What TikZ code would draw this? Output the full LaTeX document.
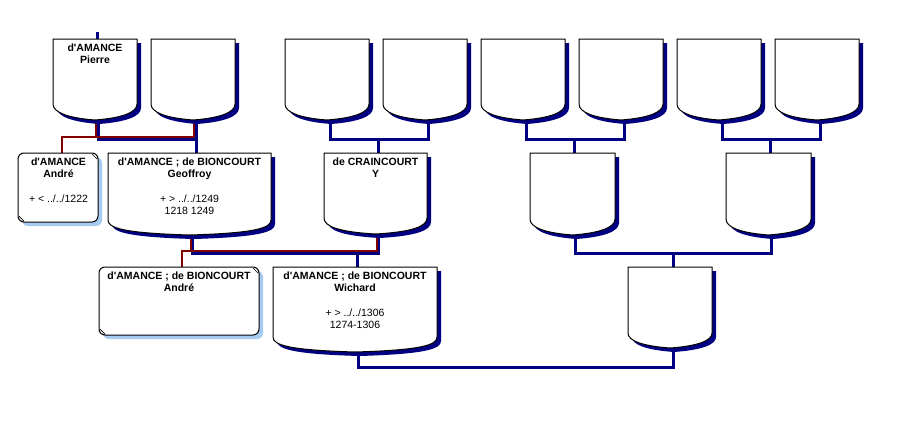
\documentclass[tikz,border=0pt]{standalone}
\usepackage{fontspec}
\setmainfont{Liberation Sans}
\definecolor{navy}{RGB}{0,0,128}
\definecolor{darkred}{RGB}{128,0,0}
\definecolor{lightshadow}{RGB}{166,202,240}
\newcommand\apo{\textquotesingle}
\tikzset{
  blueline/.style={draw=navy,line width=3pt},
  redline/.style={draw=darkred,line width=2pt},
  nametext/.style={anchor=base,inner sep=0pt,font=\fontsize{10.5}{12}\selectfont\bfseries},
  datetext/.style={anchor=base,inner sep=0pt,font=\fontsize{10.5}{12}\selectfont},
  outline/.style={draw=black,line width=1pt,fill=white}
}
% name, left, top, width, side bottom, bottom point
\newcommand\shieldbox[6]{%
  \pgfmathsetmacro\sR{#2+#4}%
  \pgfmathsetmacro\sC{#2+#4/2}%
  \pgfmathsetmacro\sA{#5+0.53*(#6-#5)}%
  \pgfmathsetmacro\sB{#6-0.13*(#6-#5)}%
  \fill[navy,shift={(4,4)}] (#2,#3) -- (\sR,#3) -- (\sR,#5) .. controls (\sR,\sA) and (\sR-15,\sB) .. (\sC,#6) .. controls (#2+15,\sB) and (#2,\sA) .. (#2,#5) -- cycle;
  \path[outline] (#2,#3) -- (\sR,#3) -- (\sR,#5) .. controls (\sR,\sA) and (\sR-15,\sB) .. (\sC,#6) .. controls (#2+15,\sB) and (#2,\sA) .. (#2,#5) -- cycle;
}
% name, left, top, right, bottom
\newcommand\roundbox[5]{%
  \fill[lightshadow,rounded corners=6] (#2+4,#3+4) rectangle (#4+4,#5+4);
  \path[outline,rounded corners=6] (#2,#3) rectangle (#4,#5);
  \draw[line width=0.7pt] (#4-6,#3+1) -- (#4-1,#3+6);
  \draw[line width=0.7pt] (#2+1,#5-6) -- (#2+6,#5-1);
}
\begin{document}
\begin{tikzpicture}[x=1pt,y=-1pt]
\useasboundingbox[fill=white] (0,0) rectangle (897,445);
% ---- attachment coordinates (bottom points: blue b, red r; tops) ----
\foreach \n/\cx/\by in {f1/95/120,f2/193/120,f3/327/120,f4/425/120,f5/523/120,f6/621/120,f7/719/120,f8/817/120,
  geoffroy/189.5/235,craincourt/375.5/234,ma/572.5/235,mb/768.5/235,wichard/355/352,br/670/348}{
  \coordinate (\n-b) at (\cx+3,\by);
  \coordinate (\n-r) at (\cx+1,\by);
}
\coordinate (f1-top) at (95,39);
\coordinate (geoffroy-top) at (189.5,153);
\coordinate (craincourt-top) at (375.5,153);
\coordinate (ma-top) at (572.5,153);
\coordinate (mb-top) at (768.5,153);
\coordinate (wichard-top) at (355,267);
\coordinate (br-top) at (670,267);
\coordinate (andre1-top) at (61.5,153);
\coordinate (andre2-top) at (181.5,267);
\coordinate (stub) at (97,32);
% junctions
\coordinate (j1) at (146,139.5);
\coordinate (j2) at (378.5,139);
\coordinate (j3) at (574.5,139);
\coordinate (j4) at (770.5,139);
\coordinate (j5) at (357,253.5);
\coordinate (j6) at (673,253);
\coordinate (j7) at (515,367);
\coordinate (r1) at (146,137);
\coordinate (r2) at (280,251);
% ---- blue connectors ----
\draw[blueline] (stub) -- (stub |- f1-top);
\draw[blueline] (f1-b) |- (j1) -| (f2-b);
\draw[blueline] (f2-b |- j1) -- (f2-b |- geoffroy-top);
\draw[blueline] (f3-b) |- (j2) -| (f4-b);
\draw[blueline] (j2) -- (j2 |- craincourt-top);
\draw[blueline] (f5-b) |- (j3) -| (f6-b);
\draw[blueline] (j3) -- (j3 |- ma-top);
\draw[blueline] (f7-b) |- (j4) -| (f8-b);
\draw[blueline] (j4) -- (j4 |- mb-top);
\draw[blueline] (geoffroy-b) |- (j5) -| (craincourt-b);
\draw[blueline] (j5) -- (j5 |- wichard-top);
\draw[blueline] (ma-b) |- (j6) -| (mb-b);
\draw[blueline] (j6) -- (j6 |- br-top);
\draw[blueline] (wichard-b) |- (j7) -| (br-b);
% ---- red connectors ----
\draw[redline] (f1-r) |- (r1) -| (f2-r);
\draw[redline] (f1-r |- r1) -| (andre1-top);
\draw[redline] (geoffroy-r) |- (r2) -| (craincourt-r);
\draw[redline] (geoffroy-r |- r2) -| (andre2-top);
% ---- boxes ----
\shieldbox{f1}{53}{39}{84}{104}{120}
\shieldbox{f2}{151}{39}{84}{104}{120}
\shieldbox{f3}{285}{39}{84}{104}{120}
\shieldbox{f4}{383}{39}{84}{104}{120}
\shieldbox{f5}{481}{39}{84}{104}{120}
\shieldbox{f6}{579}{39}{84}{104}{120}
\shieldbox{f7}{677}{39}{84}{104}{120}
\shieldbox{f8}{775}{39}{84}{104}{120}
\shieldbox{geoffroy}{108}{153}{163}{220}{235}
\shieldbox{craincourt}{324}{153}{103}{218}{234}
\shieldbox{ma}{530}{153}{85}{219}{235}
\shieldbox{mb}{726}{153}{85}{219}{235}
\shieldbox{wichard}{273}{267}{164}{337}{352}
\shieldbox{br}{628}{267}{84}{333}{348}
\roundbox{andre1}{18}{153}{98}{222}
\roundbox{andre2}{99}{267}{259}{335}
% ---- texts ----
\node[nametext] (t-pierre1) at (95,51.5) {d\apo AMANCE};
\node[nametext] (t-pierre2) at (95,63.5) {Pierre};
\node[nametext] (t-andre1a) at (58.5,165.5) {d\apo AMANCE};
\node[nametext] (t-andre1b) at (58.5,177.5) {André};
\node[datetext] (t-andre1c) at (58.5,202.5) {+ < ../../1222};
\node[nametext] (t-geo1) at (189.5,165.5) {d\apo AMANCE ; de BIONCOURT};
\node[nametext] (t-geo2) at (189.5,177.5) {Geoffroy};
\node[datetext] (t-geo3) at (189.5,202) {+ > ../../1249};
\node[datetext] (t-geo4) at (189.5,214) {1218 1249};
\node[nametext] (t-cra1) at (375.5,165.5) {de CRAINCOURT};
\node[nametext] (t-cra2) at (375.5,177.5) {Y};
\node[nametext] (t-andre2a) at (179,279.5) {d\apo AMANCE ; de BIONCOURT};
\node[nametext] (t-andre2b) at (179,291.5) {André};
\node[nametext] (t-wic1) at (355,279.5) {d\apo AMANCE ; de BIONCOURT};
\node[nametext] (t-wic2) at (355,291.5) {Wichard};
\node[datetext] (t-wic3) at (355,316) {+ > ../../1306};
\node[datetext] (t-wic4) at (355,328) {1274-1306};
\end{tikzpicture}
\end{document}
